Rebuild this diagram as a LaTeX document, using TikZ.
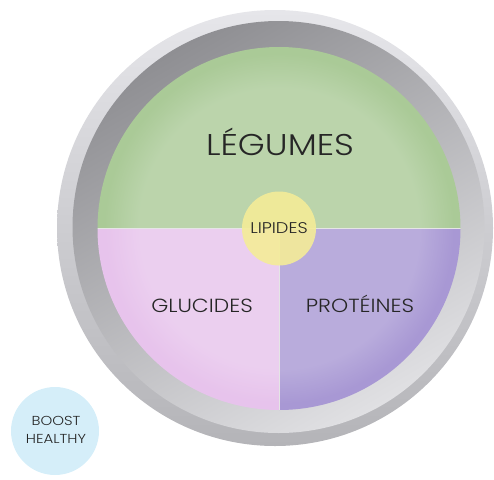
\documentclass[tikz,border=0pt]{standalone}
\usepackage{fontspec}
\IfFontExistsTF{Poppins Light}{\setmainfont{Poppins Light}[FakeStretch=1.15]}{\setmainfont{Poppins}[FakeStretch=1.15]}
\usepackage{xcolor}
\usepackage{tikz}
\usetikzlibrary{fadings}
\definecolor{plateLight}{HTML}{E6E6EA}
\definecolor{plateDark}{HTML}{B4B4B8}
\definecolor{wellDark}{HTML}{8F8F93}
\definecolor{wellLight}{HTML}{E0E0E3}
\definecolor{legumesGreen}{HTML}{AACA97}
\definecolor{glucidesPink}{HTML}{E7C3EC}
\definecolor{proteinesPurple}{HTML}{A898D4}
\definecolor{lipidesYellow}{HTML}{F4EC98}
\definecolor{boostBlue}{HTML}{D5EEF9}

\begin{document}
\begin{tikzpicture}[x=1pt,y=-1pt,
  word/.style={text=black!85,inner sep=0pt,anchor=base}]
  \useasboundingbox (0,0) rectangle (494,479);
  \shade[top color=plateLight,bottom color=plateDark] (275,228) circle (218);
  \shade[top color=wellDark,bottom color=wellLight,shading angle=30] (278.5,227) circle (206);
  \begin{scope}
    \clip (279,228.5) circle (181.5);
    \fill[legumesGreen] (90,40) rectangle (470,228.5);
    \fill[glucidesPink] (90,228.5) rectangle (279,420);
    \fill[proteinesPurple] (279,228.5) rectangle (470,420);
    \fill[white,opacity=0.2,path fading=circle with fuzzy edge 20 percent] (279,228.5) circle (175);
    \draw[white!80!gray,line width=0.8pt] (90,228.5) -- (470,228.5);
    \draw[white!80!gray,line width=0.8pt] (279,228.5) -- (279,420);
  \end{scope}
  \node[circle,fill=lipidesYellow,fill opacity=0.9,text opacity=1,minimum size=74pt,inner sep=0pt,
    font=\fontsize{15.5}{19}\selectfont,text=black!85] (lipides) at (279,228.5) {LIPIDES};
  \node[word,font=\fontsize{30}{36}\selectfont] (legumes) at (280,155) {LÉGUMES};
  \node[word,font=\fontsize{19}{23}\selectfont] (glucides) at (202,312.5) {GLUCIDES};
  \node[word,font=\fontsize{19}{23}\selectfont] (proteines) at (360,312.5) {PROTÉINES};
  \node[circle,fill=boostBlue,minimum size=88pt] (boost) at (55,431) {};
  \node[word,align=center,font=\fontsize{13}{18}\selectfont] (boostText) at (56,443) {BOOST\\HEALTHY};
\end{tikzpicture}
\end{document}
